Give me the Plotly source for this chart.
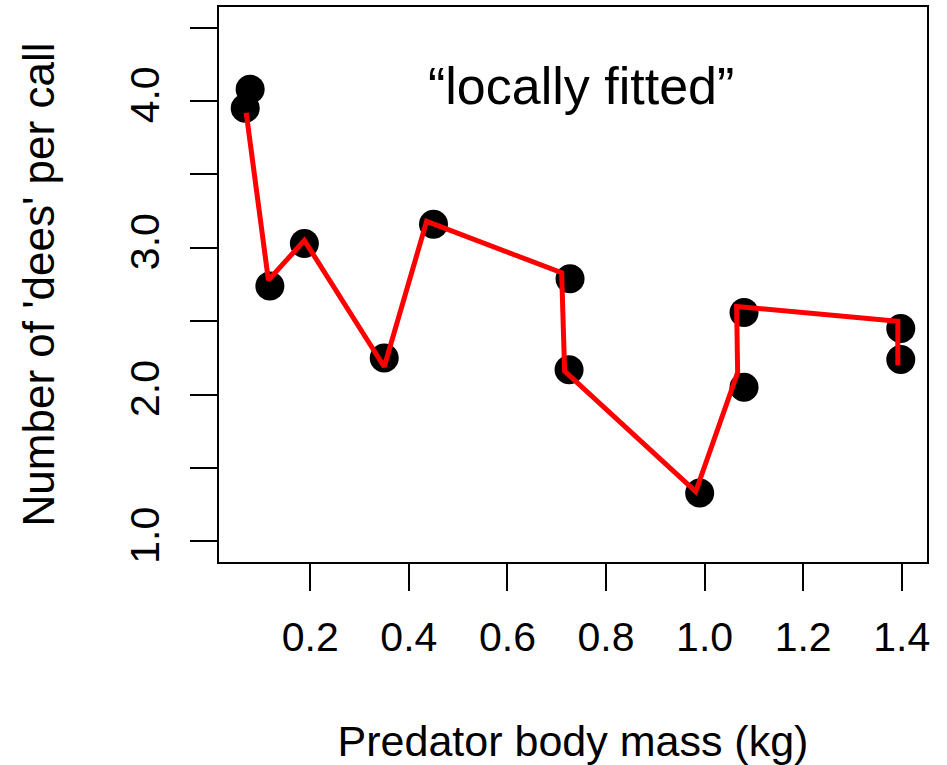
import plotly.graph_objects as go

# Observed data (predator body mass in kg, number of 'dees' per call)
mass = [0.068, 0.078, 0.118, 0.188, 0.350, 0.450, 0.727, 0.725, 0.990, 1.080, 1.080, 1.398, 1.398]
dees = [3.95, 4.08, 2.74, 3.03, 2.25, 3.16, 2.79, 2.17, 1.33, 2.56, 2.05, 2.45, 2.24]

# "Locally fitted" curve vertices
fit_mass = [0.070, 0.115, 0.188, 0.350, 0.436, 0.710, 0.716, 0.982, 1.067, 1.065, 1.392, 1.392]
fit_dees = [3.92, 2.78, 3.05, 2.19, 3.18, 2.83, 2.16, 1.34, 2.15, 2.60, 2.50, 2.20]

x_ticks = [0.2, 0.4, 0.6, 0.8, 1.0, 1.2, 1.4]
x_tick_labels = ["0.2", "0.4", "0.6", "0.8", "1.0", "1.2", "1.4"]
y_ticks = [1.0, 1.5, 2.0, 2.5, 3.0, 3.5, 4.0, 4.5]
y_tick_labels = ["1.0", "", "2.0", "", "3.0", "", "4.0", ""]
y_lim = [1.0, 4.5]

x_title = "Predator body mass (kg)"
y_title = "Number of 'dees' per call"
note = "\u201clocally fitted\u201d"

FONT = "Liberation Sans, Arial, Helvetica, sans-serif"

# R-style 4% axis extension
xspan = max(mass) - min(mass)
x_range = [min(mass) - 0.04 * xspan, max(mass) + 0.04 * xspan]
yspan = y_lim[1] - y_lim[0]
y_range = [y_lim[0] - 0.04 * yspan, y_lim[1] + 0.04 * yspan]

fig = go.Figure()
fig.add_trace(go.Scatter(
    x=mass, y=dees, mode="markers",
    marker=dict(color="black", size=29, line=dict(width=0)),
    showlegend=False, hoverinfo="x+y",
))
fig.add_trace(go.Scatter(
    x=fit_mass, y=fit_dees, mode="lines",
    line=dict(color="#ff0000", width=5),
    showlegend=False, hoverinfo="x+y",
))

fig.add_annotation(
    x=0.75, y=4.10, xref="x", yref="y", text=note, showarrow=False,
    font=dict(family=FONT, size=52, color="black"),
)

axis_common = dict(
    showline=True, mirror=True, linecolor="black", linewidth=2,
    ticks="outside", ticklen=27, tickwidth=2, tickcolor="black",
    showgrid=False, zeroline=False, automargin=False,
    tickfont=dict(family=FONT, size=41, color="black"),
)

fig.update_layout(
    width=947, height=765,
    margin=dict(l=219, r=20, t=7, b=203),
    paper_bgcolor="white", plot_bgcolor="white",
    xaxis=dict(
        range=x_range, tickvals=x_ticks, ticktext=x_tick_labels,
        ticklabelstandoff=11,
        title=dict(text=x_title, font=dict(family=FONT, size=43, color="black"), standoff=74),
        **axis_common,
    ),
    yaxis=dict(
        range=y_range, tickvals=y_ticks, ticktext=y_tick_labels,
        tickangle=-90, ticklabelstandoff=15,
        title=dict(text=y_title, font=dict(family=FONT, size=44, color="black"), standoff=53),
        **axis_common,
    ),
)

fig.write_html(
    "out.html",
    config={"displayModeBar": False},
    post_script="document.body.style.margin='0';document.body.style.overflow='hidden';",
)
